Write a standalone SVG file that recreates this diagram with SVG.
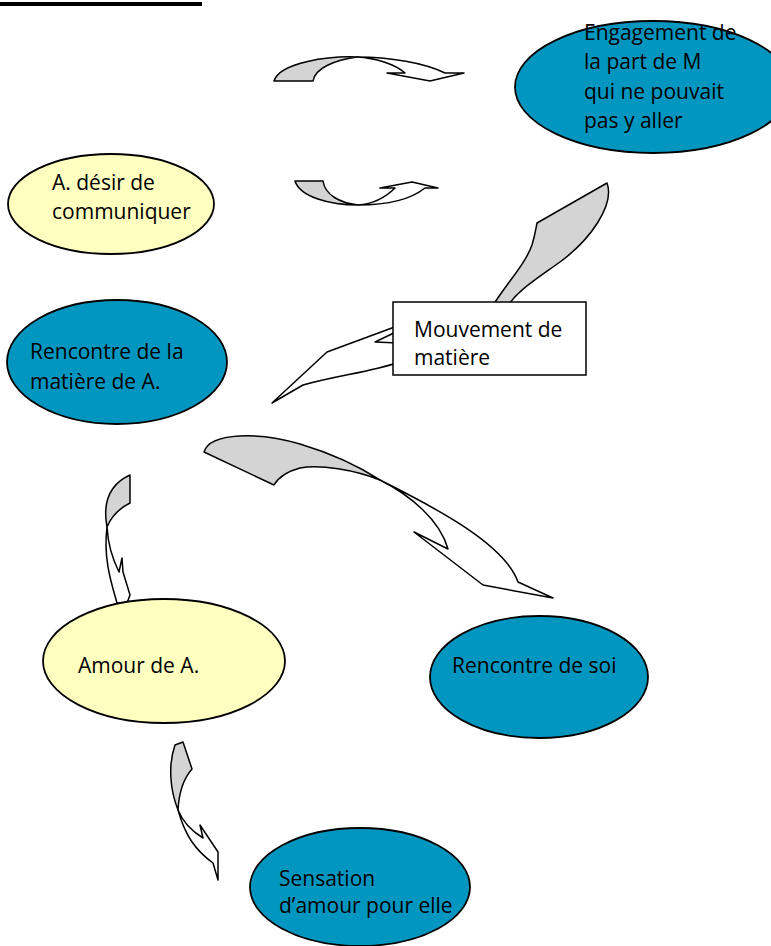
<svg xmlns="http://www.w3.org/2000/svg" width="771" height="946" viewBox="0 0 771 946">
<style>
.blue{fill:#0096c0;stroke:#000;stroke-width:1.8}
.yel{fill:#ffffc0;stroke:#000;stroke-width:1.8}
.g{fill:#d4d4d4;stroke:#000;stroke-width:1.5;stroke-linejoin:round}
.w{fill:#fff;stroke:#000;stroke-width:1.5;stroke-linejoin:round}
text{font-family:"Open Sans","Liberation Sans",sans-serif;font-size:21px;fill:#000}
</style>
<rect x="0" y="2" width="202" height="4" fill="#000"/>
<g id="connectors">
<path class="g" d="M274,81 C280,62 330,56 357,57 C335,60 315,68 313,81 Z"/>
<path class="w" d="M357,57 C390,57 425,63 445,73 L464,73 L430,81 L387,73 L405,73 C395,64 375,58 357,57 Z"/>
<path class="g" d="M295,181 L323,181 C325,195 340,203 358,205 C330,205 300,197 295,181 Z"/>
<path class="w" d="M358,205 C385,205 410,200 425,188 L438,188 L412,182 L380,188 L395,188 C385,198 372,204 358,205 Z"/>
<path class="g" d="M607,183 C615,205 590,240 560,262 C535,280 515,292 505,310 L490,310 C505,285 525,265 532,245 C535,235 536,228 537,223 Z"/>
<path class="w" d="M400,325 L327,352 L272,403 L303,385 C340,375 370,372 400,362 Z"/>
<path class="w" d="M398,331 L375,342 L398,343"/>
<path class="g" d="M204,452 C210,432 260,432 300,444 C330,453 360,467 380,480 C355,470 320,464 300,468 C285,472 278,478 274,485 Z"/>
<path class="w" d="M380,480 C440,510 505,545 518,582 L553,598 L483,585 L414,532 L448,549 C440,520 410,495 380,480 Z"/>
<path class="g" d="M130,475 L130,503 C120,508 112,515 107,527 C103,505 108,485 130,475 Z"/>
<path class="w" d="M107,527 C103,560 112,585 117,603 L127,603 L130,595 L123,572 L122,558 L119,572 C113,560 108,545 107,527 Z"/>
<path class="g" d="M175,745 L183,742 L192,769 C184,778 179,792 178,810 C170,790 168,765 175,745 Z"/>
<path class="w" d="M178,810 C185,835 195,850 213,863 L218,880 L218,852 L200,825 L203,838 C190,830 182,820 178,810 Z"/>
</g>
<g id="engagement">
<ellipse class="blue" cx="653" cy="87" rx="138" ry="66"/>
<text x="584" y="40">Engagement de</text>
<text x="584" y="69">la part de M</text>
<text x="584" y="99">qui ne pouvait</text>
<text x="584" y="128">pas y aller</text>
</g>
<g id="desir">
<ellipse class="yel" cx="111" cy="204" rx="103" ry="50"/>
<text x="52" y="190">A. désir de</text>
<text x="52" y="219">communiquer</text>
</g>
<g id="mouvement">
<rect x="393" y="302" width="193" height="73" fill="#fff" stroke="#000" stroke-width="1.5"/>
<text x="414" y="337">Mouvement de</text>
<text x="414" y="365">matière</text>
</g>
<g id="rencontre-matiere">
<ellipse class="blue" cx="117" cy="362" rx="110" ry="62"/>
<text x="30" y="359">Rencontre de la</text>
<text x="30" y="389">matière de A.</text>
</g>
<g id="amour">
<ellipse class="yel" cx="164" cy="661" rx="121" ry="62"/>
<text x="78" y="673">Amour de A.</text>
</g>
<g id="rencontre-soi">
<ellipse class="blue" cx="539" cy="677" rx="109" ry="61"/>
<text x="452" y="673">Rencontre de soi</text>
</g>
<g id="sensation">
<ellipse class="blue" cx="360" cy="887" rx="110" ry="59"/>
<text x="279" y="886">Sensation</text>
<text x="279" y="913">d’amour pour elle</text>
</g>
</svg>
